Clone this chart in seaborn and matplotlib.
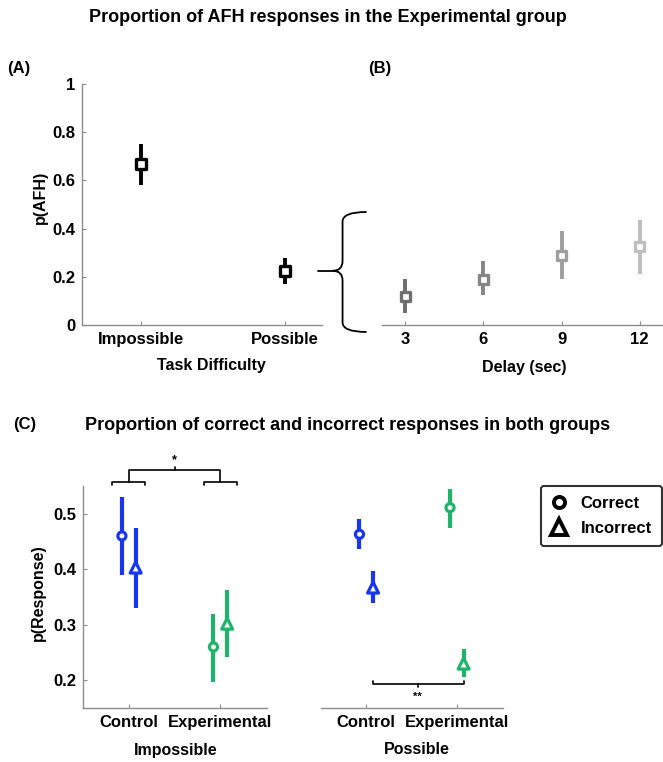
import numpy as np
import pandas as pd
import seaborn as sns
import matplotlib.pyplot as plt
from matplotlib.path import Path
from matplotlib.patches import PathPatch
from matplotlib.lines import Line2D

# ---- panel A: AFH by task difficulty
difficulty = ["Impossible", "Possible"]
afh_mean = [0.67, 0.225]
afh_lo = [0.58, 0.17]
afh_hi = [0.75, 0.28]

# ---- panel B: AFH by delay (possible trials)
delays = [3, 6, 9, 12]
delay_mean = [0.12, 0.19, 0.29, 0.325]
delay_lo = [0.05, 0.125, 0.19, 0.21]
delay_hi = [0.19, 0.265, 0.39, 0.435]
delay_grays = ["#6e6e6e", "#858585", "#9e9e9e", "#bdbdbd"]

# ---- panel C: correct / incorrect by group
groups = ["Control", "Experimental"]
responses = ["Correct", "Incorrect"]
# order: Control-Correct, Control-Incorrect, Experimental-Correct, Experimental-Incorrect
imp_mean = [0.46, 0.403, 0.26, 0.302]
imp_lo = [0.39, 0.33, 0.197, 0.242]
imp_hi = [0.53, 0.475, 0.32, 0.363]
pos_mean = [0.463, 0.367, 0.511, 0.23]
pos_lo = [0.436, 0.34, 0.474, 0.205]
pos_hi = [0.49, 0.397, 0.544, 0.257]
group_colors = {"Control": "#1836f0", "Experimental": "#1fb46c"}
resp_markers = {"Correct": "o", "Incorrect": "^"}

sns.set_style("white")
plt.rcParams["font.family"] = ["Liberation Sans", "DejaVu Sans"]
plt.rcParams["font.weight"] = "bold"
plt.rcParams["axes.labelweight"] = "bold"
plt.rcParams["text.color"] = "black"
plt.rcParams["axes.labelcolor"] = "black"
plt.rcParams["xtick.labelcolor"] = "black"
plt.rcParams["ytick.labelcolor"] = "black"

W, H = 663, 762
fig = plt.figure(figsize=(W / 100, H / 100), dpi=100)


def box(l, t, r, b):
    return [l / W, 1 - b / H, (r - l) / W, (b - t) / H]


def style(ax, left=True):
    sns.despine(ax=ax, left=not left)
    for s in ax.spines.values():
        s.set_color("#8c8c8c")
        s.set_linewidth(1.0)
    ax.tick_params(direction="in", length=3, width=0.8, color="#8c8c8c",
                   labelsize=12, pad=5, bottom=True, left=left)
    if not left:
        ax.tick_params(axis="y", left=False, labelleft=False)
    ax.set_facecolor("none")


def hollow(ax):
    coll = ax.collections[-1]
    coll.set_edgecolors(coll.get_facecolors())
    coll.set_facecolors("white")


# ---------------- panel A
axA = fig.add_axes(box(82, 84, 322, 325))
dfA = pd.DataFrame({"x": np.arange(len(difficulty)), "p": afh_mean,
                    "lo": afh_lo, "hi": afh_hi})
axA.vlines(dfA["x"], dfA["lo"], dfA["hi"], color="black", lw=2.8, zorder=2)
sns.scatterplot(data=dfA, x="x", y="p", ax=axA, marker="s", s=46,
                color="black", linewidth=2.4, zorder=3, legend=False)
hollow(axA)
axA.set_xlim(-0.41, 1.26)
axA.set_ylim(0, 1)
axA.set_xticks(dfA["x"], difficulty)
axA.set_yticks([0, 0.2, 0.4, 0.6, 0.8, 1], ["0", "0.2", "0.4", "0.6", "0.8", "1"])
axA.set_xlabel("Task Difficulty", fontsize=11.5)
axA.set_ylabel("p(AFH)", fontsize=11.5)
axA.xaxis.set_label_coords((211 - 82) / 240, (325 - 365) / 241)
axA.xaxis.label.set_va("center")
axA.yaxis.set_label_coords((40 - 82) / 240, (325 - 197) / 241)
axA.yaxis.label.set_va("center")
style(axA)

# curly brace linking "Possible" to panel B
ty = afh_mean[1]
xv, xt, xe, h = 1.403, 1.333, 1.57, 0.04
top, bot = 0.469, -0.029
verts = [(xe, top), (xv, top), (xv, top - h), (xv, ty + h), (xv, ty), (xt, ty),
         (xv, ty), (xv, ty - h), (xv, bot + h), (xv, bot), (xe, bot)]
codes = [Path.MOVETO, Path.CURVE3, Path.CURVE3, Path.LINETO, Path.CURVE3, Path.CURVE3,
         Path.CURVE3, Path.CURVE3, Path.LINETO, Path.CURVE3, Path.CURVE3]
axA.add_patch(PathPatch(Path(verts, codes), fill=False, lw=1.3, color="black",
                        clip_on=False))
axA.plot([1.229, xt], [ty, ty], color="black", lw=1.3, clip_on=False)

# ---------------- panel B
axB = fig.add_axes(box(382, 84, 663, 325))
dfB = pd.DataFrame({"delay": delays, "p": delay_mean, "lo": delay_lo, "hi": delay_hi})
axB.vlines(dfB["delay"], dfB["lo"], dfB["hi"], colors=delay_grays, lw=2.8, zorder=2)
sns.scatterplot(data=dfB, x="delay", y="p", hue="delay", palette=delay_grays,
                ax=axB, marker="s", s=42, linewidth=2.4, zorder=3, legend=False)
hollow(axB)
axB.set_xlim(2.1, 12.9)
axB.set_ylim(0, 1)
axB.set_xticks(delays)
axB.set_xlabel("Delay (sec)", fontsize=11.5)
axB.set_ylabel("")
axB.xaxis.set_label_coords((524 - 382) / 281, (325 - 367) / 241)
axB.xaxis.label.set_va("center")
style(axB, left=False)

# ---------------- panel C
rows = []
for i, g in enumerate(groups):
    for j, r in enumerate(responses):
        rows.append({"group": g, "response": r, "gi": i, "ri": j})
base = pd.DataFrame(rows)
dfC1 = base.assign(p=imp_mean, lo=imp_lo, hi=imp_hi)
dfC2 = base.assign(p=pos_mean, lo=pos_lo, hi=pos_hi)

axC1 = fig.add_axes(box(83, 486, 267, 708))
axC2 = fig.add_axes(box(321, 486, 503, 708))
for ax, df, lab, lx, first in [(axC1, dfC1, "Impossible", 176, True),
                               (axC2, dfC2, "Possible", 417, False)]:
    df = df.assign(xpos=df["gi"] + np.where(df["ri"] == 0, -0.075, 0.075))
    ax.vlines(df["xpos"], df["lo"], df["hi"],
              colors=[group_colors[g] for g in df["group"]], lw=3.0, zorder=2)
    for r in responses:
        sub = df[df["response"] == r]
        sns.scatterplot(data=sub, x="xpos", y="p", hue="group", palette=group_colors,
                        marker=resp_markers[r], s=34 if r == "Correct" else 62,
                        linewidth=2.3, ax=ax, zorder=3, legend=False)
        hollow(ax)
    ax.set_xlim(-0.5, 1.51)
    ax.set_ylim(0.15, 0.55)
    ax.set_xticks([0, 1], groups)
    ax.set_yticks([0.2, 0.3, 0.4, 0.5])
    ax.set_xlabel(lab, fontsize=11.5)
    ax.xaxis.set_label_coords((lx - (83 if first else 321)) / (184 if first else 182),
                              (708 - 750) / 222)
    ax.xaxis.label.set_va("center")
    if first:
        ax.set_ylabel("p(Response)", fontsize=11.5)
        ax.yaxis.set_label_coords((38 - 83) / 184, (708 - 593) / 222)
        ax.yaxis.label.set_va("center")
    else:
        ax.set_ylabel("")
    style(ax, left=first)

# significance brackets
bk = dict(color="black", lw=1.2, clip_on=False)
for i in range(len(groups)):
    axC1.plot([i - 0.18, i - 0.18, i + 0.18, i + 0.18], [0.551, 0.557, 0.557, 0.551], **bk)
axC1.plot([0, 0, 1, 1], [0.557, 0.578, 0.578, 0.557], **bk)
axC1.plot([0.5, 0.5], [0.578, 0.585], **bk)
axC1.text(0.5, 0.596, "*", ha="center", va="center", fontsize=9)

axC2.plot([0.07, 0.07, 1.08, 1.08], [0.199, 0.194, 0.194, 0.199], **bk)
axC2.plot([0.566, 0.566], [0.194, 0.187], **bk)
axC2.text(0.566, 0.17, "**", ha="center", va="center", fontsize=8)

# legend
handles = [Line2D([], [], marker=resp_markers[r], color="black", mfc="white",
                  mew=2.8, ms=8 if r == "Correct" else 11, linestyle="none")
           for r in responses]
leg = fig.legend(handles, responses, loc="upper right",
                 bbox_to_anchor=(662 / W, 1 - 486 / H), fontsize=12,
                 frameon=True, fancybox=True, edgecolor="black",
                 handlelength=1.0, handletextpad=0.8, labelspacing=0.6,
                 borderpad=0.6, borderaxespad=0)
leg.get_frame().set_linewidth(1.5)

# titles and panel letters
fig.text(328 / W, 1 - 17 / H, "Proportion of AFH responses in the Experimental group",
         ha="center", va="center", fontsize=13, weight="bold")
fig.text(348 / W, 1 - 425 / H, "Proportion of correct and incorrect responses in both groups",
         ha="center", va="center", fontsize=13, weight="bold")
fig.text(7 / W, 1 - 68 / H, "(A)", ha="left", va="center", fontsize=12, weight="bold")
fig.text(368 / W, 1 - 68 / H, "(B)", ha="left", va="center", fontsize=12, weight="bold")
fig.text(13 / W, 1 - 425 / H, "(C)", ha="left", va="center", fontsize=12, weight="bold")

fig.savefig("out.png", dpi=100)
